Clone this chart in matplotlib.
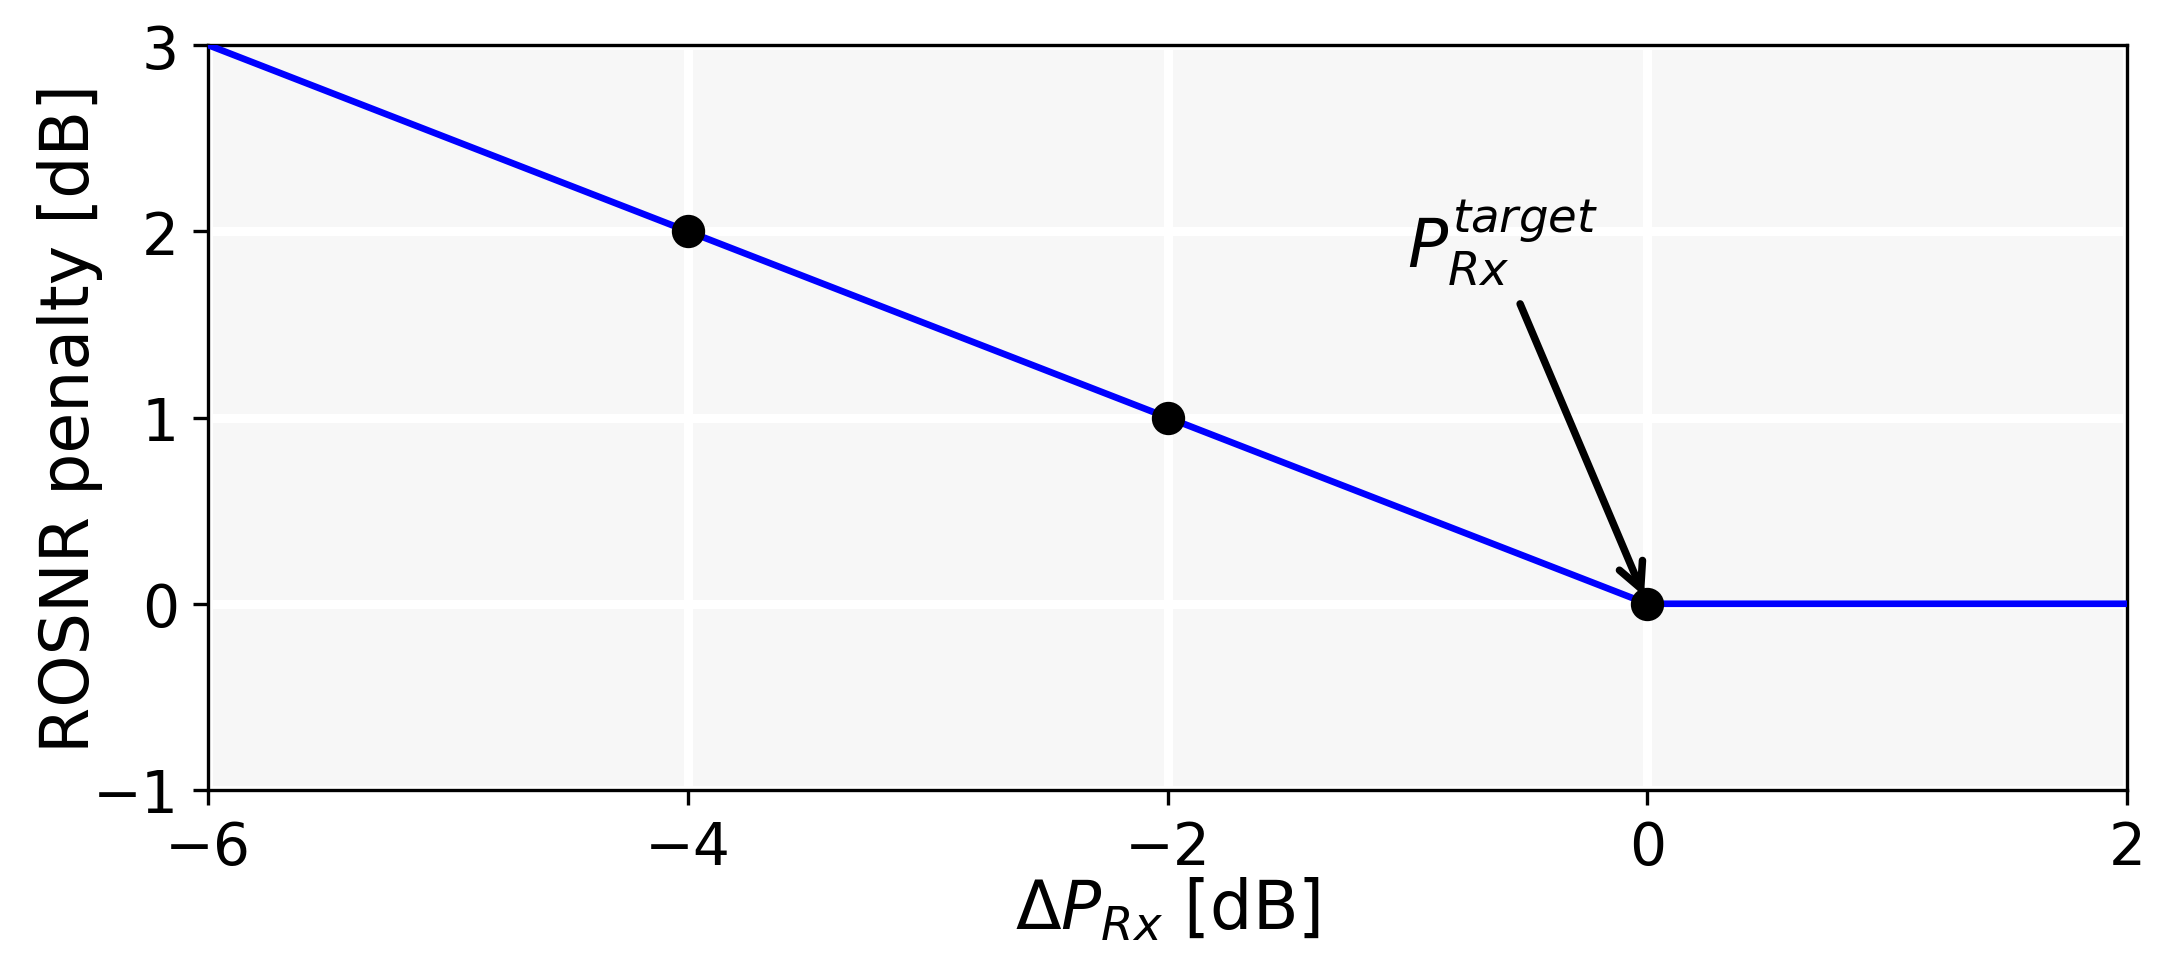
import matplotlib
matplotlib.use("Agg")
import matplotlib.pyplot as plt

# Data
line_x = [-6, 0, 2]
line_y = [3, 0, 0]
point_x = [-4, -2, 0]
point_y = [2, 1, 0]
x_ticks = [-6, -4, -2, 0, 2]
y_ticks = [-1, 0, 1, 2, 3]
annot_text = r"$P_{Rx}^{target}$"
annot_xy = (0, 0)
annot_text_xy = (-1.0, 1.81)
annot_tail = (-0.53, 1.61)

fig = plt.figure(figsize=(2169/300, 955/300), dpi=300)
ax = fig.add_axes([208/2169, 1-791/955, (2127-208)/2169, (791-46)/955])
ax.set_facecolor("#f7f7f7")
ax.grid(True, color="white", linewidth=2.2)
ax.set_axisbelow(True)

ax.plot(line_x, line_y, color="blue", linewidth=1.6, zorder=3)
ax.plot(point_x, point_y, "o", color="black", markersize=7, zorder=4)

ax.annotate("", xy=annot_xy, xytext=annot_tail,
            arrowprops=dict(arrowstyle="->", color="black", lw=1.8,
                            shrinkA=0, shrinkB=2, mutation_scale=15), zorder=5)
ax.text(annot_text_xy[0], annot_text_xy[1], annot_text, fontsize=16,
        ha="left", va="baseline", zorder=5)

ax.set_xlim(-6, 2)
ax.set_ylim(-1, 3)
ax.set_xticks(x_ticks)
ax.set_yticks(y_ticks)
ax.tick_params(labelsize=14)
ax.set_xlabel(r"$\Delta P_{Rx}$ [dB]", fontsize=16, labelpad=0)
ax.set_ylabel("ROSNR penalty [dB]", fontsize=16)
ax.yaxis.set_label_coords(-0.0547, 0.5)

fig.savefig("out.png", dpi=300)
